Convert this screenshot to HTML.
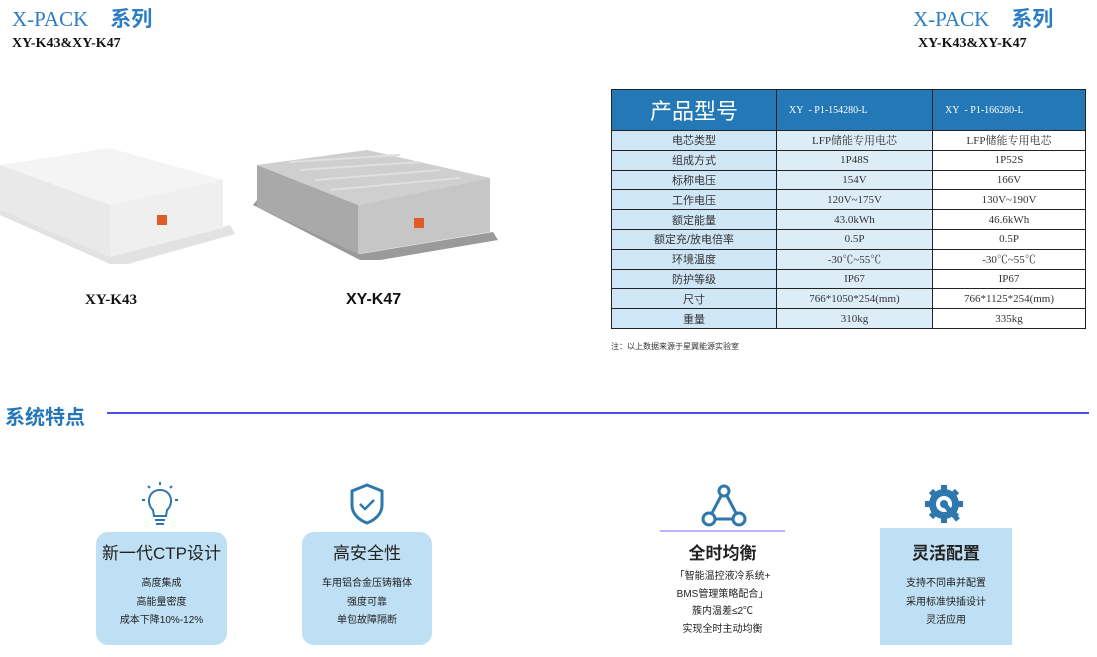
<!DOCTYPE html>
<html><head><meta charset="utf-8"><style>
*{margin:0;padding:0;box-sizing:border-box}
body{width:1097px;height:657px;background:#fff;position:relative;overflow:hidden;font-family:"Liberation Sans","Noto Sans CJK SC",sans-serif}
.a{position:absolute}
.ttl{font-family:"Liberation Serif","Noto Sans CJK SC",serif;color:#2d7dc4;font-size:21px;white-space:nowrap}
.ttl b{font-family:"Liberation Sans","Noto Sans CJK SC",sans-serif;font-weight:bold;margin-left:22px}
.sub{font-family:"Liberation Serif",serif;font-weight:bold;font-size:14px;color:#111;white-space:nowrap}
table{position:absolute;left:611px;top:89px;width:475px;border-collapse:collapse;font-size:11px;color:#333}
td{border:1px solid #222;text-align:center;height:19.8px;padding:0;vertical-align:middle;font-family:"Liberation Serif","Noto Serif CJK SC",serif}
td.l{background:#cfe6f6;font-family:"Liberation Sans","Noto Sans CJK SC",sans-serif;font-size:11px}
td.m{background:#dcedf8}
th{background:#2378b5;color:#fff;border:1px solid #222;height:41px;font-weight:normal;font-family:"Liberation Serif",serif;font-size:10px;text-align:left;padding-left:12px}
th.h{font-size:22px;text-align:center;padding:0;font-family:"Noto Sans CJK SC",sans-serif}
.card{position:absolute;background:#bfe0f4;text-align:center;color:#222}
.card .t{font-size:17px;margin-top:10px;height:33px;line-height:24px}
.card p{font-size:10px;line-height:18.5px}
</style></head><body>
<div class="a ttl" style="left:12px;top:3px">X-PACK<b>系列</b></div>
<div class="a sub" style="left:12px;top:36px">XY-K43&amp;XY-K47</div>
<div class="a ttl" style="left:913px;top:3px">X-PACK<b>系列</b></div>
<div class="a sub" style="left:918px;top:36px">XY-K43&amp;XY-K47</div>

<svg class="a" style="left:0;top:140px" width="520" height="140" viewBox="0 140 520 140">
<polygon points="0,215 110,264 128,264 235,234 230,225 110,257 0,207" fill="#e2e2e2"/>
<polygon points="0,165 110,148 223,180 110,205" fill="#f4f4f4"/>
<polygon points="0,165 110,205 110,257 0,210" fill="#e9e9e9"/>
<polygon points="110,205 223,180 223,228 110,257" fill="#efefef"/>
<rect x="157" y="215" width="10" height="10" fill="#e05a2a"/>
<polygon points="253,205 360,260 380,260 498,240 493,232 360,254 257,200" fill="#9a9a9a"/>
<polygon points="257,165 367,150 490,178 358,205" fill="#cfcfcf"/>
<polygon points="257,165 358,205 358,254 257,207" fill="#a9a9a9"/>
<polygon points="358,205 490,178 490,232 358,254" fill="#c6c6c6"/>
<g stroke="#e0e0e0" stroke-width="2"><line x1="290" y1="162" x2="400" y2="155"/><line x1="300" y1="170" x2="420" y2="162"/><line x1="315" y1="180" x2="440" y2="170"/><line x1="330" y1="190" x2="460" y2="178"/></g>
<rect x="414" y="218" width="10" height="10" fill="#e05a2a"/>
</svg>
<div class="a sub" style="left:85px;top:292px;font-family:'Liberation Serif',serif;font-size:15px">XY-K43</div>
<div class="a" style="left:346px;top:291px;font-weight:bold;font-size:16px;color:#111">XY-K47</div>

<table>
<tr><th class="h" style="width:165px">产品型号</th><th style="width:156px">XY&nbsp;&nbsp;- P1-154280-L</th><th>XY&nbsp;&nbsp;- P1-166280-L</th></tr>
<tr><td class="l">电芯类型</td><td class="m">LFP储能专用电芯</td><td>LFP储能专用电芯</td></tr>
<tr><td class="l">组成方式</td><td class="m">1P48S</td><td>1P52S</td></tr>
<tr><td class="l">标称电压</td><td class="m">154V</td><td>166V</td></tr>
<tr><td class="l">工作电压</td><td class="m">120V~175V</td><td>130V~190V</td></tr>
<tr><td class="l">额定能量</td><td class="m">43.0kWh</td><td>46.6kWh</td></tr>
<tr><td class="l">额定充/放电倍率</td><td class="m">0.5P</td><td>0.5P</td></tr>
<tr><td class="l">环境温度</td><td class="m">-30℃~55℃</td><td>-30℃~55℃</td></tr>
<tr><td class="l">防护等级</td><td class="m">IP67</td><td>IP67</td></tr>
<tr><td class="l">尺寸</td><td class="m">766*1050*254(mm)</td><td>766*1125*254(mm)</td></tr>
<tr><td class="l">重量</td><td class="m">310kg</td><td>335kg</td></tr>
</table>
<div class="a" style="left:611px;top:341px;font-size:8px;color:#333">注：以上数据来源于星翼能源实验室</div>

<div class="a" style="left:5px;top:401px;font-size:20px;font-weight:bold;color:#2577b8">系统特点</div>
<div class="a" style="left:107px;top:412px;width:982px;height:2px;background:#4b4fe8"></div>

<svg class="a" style="left:140px;top:482px" width="40" height="48" viewBox="0 0 40 48" fill="none" stroke="#2e78ad" stroke-width="2">
<path d="M13,28 C6,22 8,8 20,8 C32,8 34,22 27,28 L26,34 L14,34 Z"/><path d="M15,38h10M16,42h8"/>
<path d="M20,0v3M8,4l2,2M32,4l-2,2M2,18h3M35,18h3"/></svg>
<svg class="a" style="left:349px;top:483px" width="36" height="42" viewBox="0 0 36 42" fill="none" stroke="#2e78ad" stroke-width="3">
<path d="M18,2 L33,8 V22 C33,31 26,37 18,40 C10,37 3,31 3,22 V8 Z"/><path d="M11,21 l5,5 l9,-9" stroke-width="2.5"/></svg>
<svg class="a" style="left:700px;top:483px" width="48" height="44" viewBox="0 0 48 44" fill="none" stroke="#2e78ad" stroke-width="3">
<circle cx="24" cy="8" r="5"/><circle cx="9" cy="36" r="6"/><circle cx="39" cy="36" r="6"/><path d="M21,13 L12,30 M27,13 L36,30 M15,36 H33"/></svg>
<svg class="a" style="left:922px;top:483px" width="50" height="46" viewBox="0 0 50 46">
<circle cx="22" cy="21" r="15" fill="#2e78ad"/><g stroke="#2e78ad" stroke-width="6"><path d="M22,2v38M3,21h38M9,8l26,26M35,8L9,34"/></g>
<circle cx="22" cy="21" r="8" fill="#fff"/><path d="M22,21 l14,16" stroke="#2e78ad" stroke-width="5"/><circle cx="22" cy="21" r="4" fill="#2e78ad"/></svg>

<div class="card" style="left:96px;top:532px;width:131px;height:113px;border-radius:12px"><div class="t">新一代CTP设计</div><p>高度集成</p><p>高能量密度</p><p>成本下降10%-12%</p></div>
<div class="card" style="left:302px;top:532px;width:130px;height:113px;border-radius:12px"><div class="t">高安全性</div><p>车用铝合金压铸箱体</p><p>强度可靠</p><p>单包故障隔断</p></div>
<div class="a" style="left:660px;top:530px;width:125px;height:2px;background:#b9b3fb"></div>
<div class="card" style="left:650px;top:532px;width:145px;height:113px;background:transparent"><div class="t" style="margin-top:10px;height:26px;font-weight:bold">全时均衡</div><p style="line-height:17.5px">「智能温控液冷系统+</p><p style="line-height:17.5px">BMS管理策略配合」</p><p style="line-height:17.5px">簇内温差≤2℃</p><p style="line-height:17.5px">实现全时主动均衡</p></div>
<div class="card" style="left:880px;top:528px;width:132px;height:117px"><div class="t" style="margin-top:14px;font-weight:bold">灵活配置</div><p>支持不同串并配置</p><p>采用标准快插设计</p><p>灵活应用</p></div>
</body></html>
